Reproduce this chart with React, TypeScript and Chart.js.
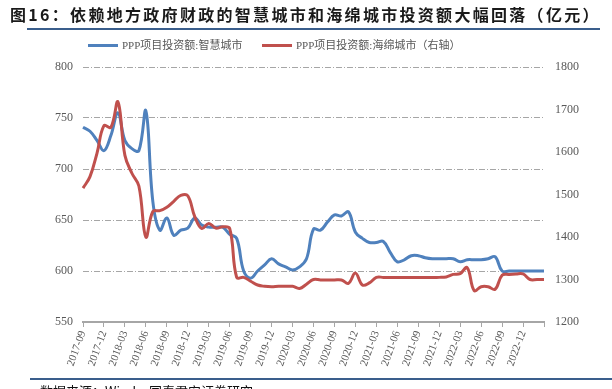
import React, { useEffect, useRef } from "react";
import { Chart, registerables } from "chart.js";

Chart.register(...registerables);

const categories: string[] = [
  "2017-09", "2017-10", "2017-11", "2017-12", "2018-01", "2018-02", "2018-03", "2018-04", "2018-05", "2018-06",
  "2018-07", "2018-08", "2018-09", "2018-10", "2018-11", "2018-12", "2019-01", "2019-02", "2019-03", "2019-04",
  "2019-05", "2019-06", "2019-07", "2019-08", "2019-09", "2019-10", "2019-11", "2019-12", "2020-01", "2020-02",
  "2020-03", "2020-04", "2020-05", "2020-06", "2020-07", "2020-08", "2020-09", "2020-10", "2020-11", "2020-12",
  "2021-01", "2021-02", "2021-03", "2021-04", "2021-05", "2021-06", "2021-07", "2021-08", "2021-09", "2021-10",
  "2021-11", "2021-12", "2022-01", "2022-02", "2022-03", "2022-04", "2022-05", "2022-06", "2022-07", "2022-08",
  "2022-09", "2022-10", "2022-11", "2022-12", "2023-01", "2023-02", "2023-03",
];

const tickLabels: string[] = [
  "2017-09", "2017-12", "2018-03", "2018-06", "2018-09", "2018-12", "2019-03", "2019-06",
  "2019-09", "2019-12", "2020-03", "2020-06", "2020-09", "2020-12", "2021-03", "2021-06",
  "2021-09", "2021-12", "2022-03", "2022-06", "2022-09", "2022-12",
];

const smartCity: number[] = [
  741, 737, 728, 718, 733, 755, 728, 720, 718, 757,
  668, 640, 652, 635, 640, 642, 652, 645, 643, 643,
  643, 636, 632, 600, 593, 600, 606, 612, 607, 604,
  601, 604, 612, 641, 640, 648, 655, 654, 658, 638,
  632, 628, 628, 629, 618, 609, 611, 615, 615, 613,
  612, 612, 612, 612, 609, 611, 611, 611, 612, 614,
  600, 600, 600, 600, 600, 600, 600,
];

const spongeCity: number[] = [
  1515, 1542, 1597, 1662, 1658, 1718, 1592, 1550, 1520, 1400,
  1460, 1462, 1470, 1484, 1498, 1497, 1448, 1420, 1432, 1421,
  1424, 1420, 1305, 1305, 1296, 1287, 1284, 1283, 1284, 1284,
  1284, 1279, 1289, 1300, 1299, 1299, 1299, 1299, 1291, 1315,
  1287, 1292, 1305, 1305, 1305, 1305, 1305, 1305, 1305, 1305,
  1305, 1305, 1306, 1312, 1314, 1328, 1274, 1283, 1283, 1277,
  1310, 1312, 1313, 1313, 1300, 1300, 1300,
];

const leftAxis = { min: 550, max: 800, step: 50 };
const rightAxis = { min: 1200, max: 1800, step: 100 };

const seriesNames = ["PPP项目投资额:智慧城市", "PPP项目投资额:海绵城市（右轴）"];
const titleText = "图16：依赖地方政府财政的智慧城市和海绵城市投资额大幅回落（亿元）";
const sourceText = "数据来源：Wind，国泰君安证券研究";

const BLUE = "#4F81BD";
const RED = "#C0504D";
const GRID = "#A6A6A6";
const TEXT = "#595959";
const SERIF = "'Liberation Serif', 'Noto Sans CJK SC', serif";

export default function App() {
  const ref = useRef<HTMLCanvasElement | null>(null);

  useEffect(() => {
    const canvas = ref.current;
    if (!canvas) return;
    const chart = new Chart(canvas, {
      type: "line",
      data: {
        labels: categories,
        datasets: [
          {
            label: seriesNames[0],
            data: smartCity,
            borderColor: BLUE,
            backgroundColor: BLUE,
            borderWidth: 3,
            pointRadius: 0,
            tension: 0.4,
            yAxisID: "y",
            order: 1,
          },
          {
            label: seriesNames[1],
            data: spongeCity,
            borderColor: RED,
            backgroundColor: RED,
            borderWidth: 3,
            pointRadius: 0,
            tension: 0.4,
            yAxisID: "y1",
            order: 0,
          },
        ],
      },
      options: {
        animation: false,
        responsive: false,
        maintainAspectRatio: false,
        layout: { padding: { top: 67, left: 0, right: 0, bottom: 0 } },
        plugins: {
          legend: { display: false },
          tooltip: { enabled: false },
        },
        scales: {
          x: {
            type: "category",
            offset: false,
            border: { display: true, color: GRID, width: 2 },
            grid: {
              display: true,
              drawOnChartArea: false,
              drawTicks: true,
              tickLength: 5,
              lineWidth: 1,
              color: (c: any) => (c.index % 3 === 0 ? GRID : "rgba(0,0,0,0)"),
            },
            ticks: {
              autoSkip: false,
              minRotation: 70,
              maxRotation: 70,
              padding: 2,
              color: TEXT,
              font: { family: SERIF, size: 11 },
              callback: (_v: any, idx: number) => {
                const lab = categories[idx];
                return tickLabels.includes(lab) ? lab : "";
              },
            },
            afterFit: (s: any) => {
              s.height = 67;
            },
          },
          y: {
            type: "linear",
            position: "left",
            min: leftAxis.min,
            max: leftAxis.max,
            border: { display: false, dash: [6, 2, 1, 2] },
            grid: {
              drawTicks: false,
              lineWidth: 1,
              color: (c: any) => (c.tick && c.tick.value === leftAxis.min ? "rgba(0,0,0,0)" : GRID),
            },
            ticks: {
              stepSize: leftAxis.step,
              padding: 10,
              color: TEXT,
              font: { family: SERIF, size: 12 },
              callback: (v: any) => String(v),
            },
            afterFit: (s: any) => {
              s.width = 83;
            },
          },
          y1: {
            type: "linear",
            position: "right",
            min: rightAxis.min,
            max: rightAxis.max,
            border: { display: false },
            grid: { display: false, drawTicks: false },
            ticks: {
              stepSize: rightAxis.step,
              padding: 11,
              color: TEXT,
              font: { family: SERIF, size: 12 },
              callback: (v: any) => String(v),
            },
            afterFit: (s: any) => {
              s.width = 68;
            },
          },
        },
      } as any,
    });
    return () => chart.destroy();
  }, []);

  return (
    <div
      style={{
        position: "absolute",
        left: 0,
        top: 0,
        width: 612,
        height: 389,
        overflow: "hidden",
        background: "#ffffff",
      }}
    >
      <canvas
        ref={ref}
        width={612}
        height={389}
        style={{ position: "absolute", left: 0, top: 0, width: 612, height: 389 }}
      />
      <div
        style={{
          position: "absolute",
          left: 10,
          top: 4,
          fontFamily: "'Noto Sans CJK SC', sans-serif",
          fontWeight: 700,
          fontSize: 16,
          letterSpacing: 2.3,
          color: "#1a1a1a",
          whiteSpace: "nowrap",
          lineHeight: "20px",
        }}
      >
        {titleText}
      </div>
      <div style={{ position: "absolute", left: 27, top: 28, width: 573, height: 2, background: "#3A5E8C" }} />
      <div style={{ position: "absolute", left: 88, top: 44, width: 30, height: 3, background: BLUE }} />
      <div
        style={{
          position: "absolute",
          left: 122,
          top: 38,
          fontFamily: SERIF,
          fontSize: 11,
          color: TEXT,
          whiteSpace: "nowrap",
          lineHeight: "14px",
        }}
      >
        {seriesNames[0]}
      </div>
      <div style={{ position: "absolute", left: 262, top: 44, width: 30, height: 3, background: RED }} />
      <div
        style={{
          position: "absolute",
          left: 296,
          top: 38,
          fontFamily: SERIF,
          fontSize: 11,
          color: TEXT,
          whiteSpace: "nowrap",
          lineHeight: "14px",
        }}
      >
        {seriesNames[1]}
      </div>
      <div style={{ position: "absolute", left: 30, top: 378, width: 582, height: 2, background: "#3A5E8C" }} />
      <div
        style={{
          position: "absolute",
          left: 40,
          top: 383,
          fontFamily: "'Noto Sans CJK SC', sans-serif",
          fontSize: 13,
          color: "#111",
          whiteSpace: "nowrap",
          lineHeight: "16px",
        }}
      >
        {sourceText}
      </div>
    </div>
  );
}
